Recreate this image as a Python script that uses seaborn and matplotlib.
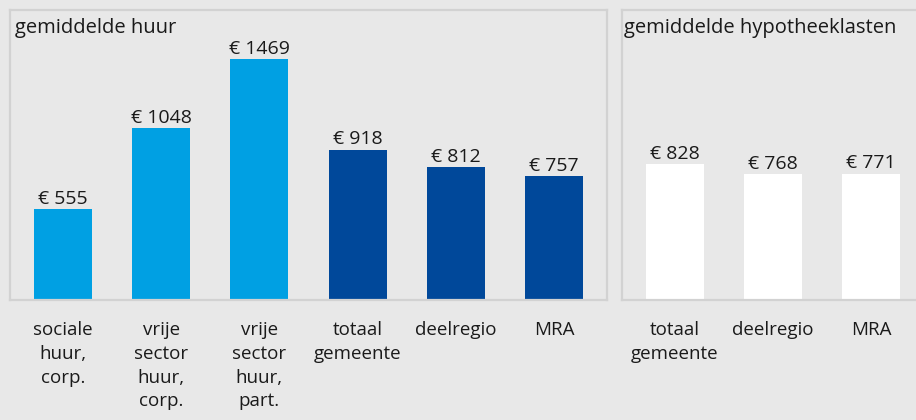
import matplotlib
matplotlib.use("Agg")
import matplotlib.pyplot as plt
import seaborn as sns

# Data
huur_labels = ["sociale\nhuur,\ncorp.", "vrije\nsector\nhuur,\ncorp.", "vrije\nsector\nhuur,\npart.",
               "totaal\ngemeente", "deelregio", "MRA"]
huur_values = [555, 1048, 1469, 918, 812, 757]
huur_colors = ["#00a0e3", "#00a0e3", "#00a0e3", "#00489a", "#00489a", "#00489a"]

hyp_labels = ["totaal\ngemeente", "deelregio", "MRA"]
hyp_values = [828, 768, 771]
hyp_colors = ["#ffffff", "#ffffff", "#ffffff"]

title_left = "gemiddelde huur"
title_right = "gemiddelde hypotheeklasten"

sns.set_theme(style="white")
plt.rcParams["font.family"] = ["Open Sans", "DejaVu Sans"]

BG = "#e8e8e8"
W, H = 916, 420
fig = plt.figure(figsize=(W / 100, H / 100), dpi=100, facecolor=BG)

YMAX = 1770

def panel(rect, labels, values, colors, title):
    ax = fig.add_axes(rect)
    ax.set_facecolor(BG)
    sns.barplot(x=labels, y=values, hue=labels, palette=colors, width=0.59,
                saturation=1, legend=False, linewidth=0, ax=ax)
    n = len(labels)
    ax.set_xlim(-0.54, n - 1 + 0.54)
    ax.set_ylim(0, YMAX)
    ax.set_yticks([])
    ax.set_xticks(range(n))
    ax.set_xticklabels(labels, fontsize=13.5, color="#1a1a1a", linespacing=1.42)
    ax.tick_params(axis="x", length=0, pad=15)
    ax.set_ylabel("")
    ax.set_xlabel("")
    for s in ax.spines.values():
        s.set_visible(True)
        s.set_color("#d2d2d2")
        s.set_linewidth(1.6)
    for c in ax.containers:
        ax.bar_label(c, labels=[f"€ {v:.0f}" for v in c.datavalues], padding=1,
                     fontsize=14, color="#1a1a1a")
    ax.text(0.008, 0.972, title, transform=ax.transAxes, ha="left", va="top",
            fontsize=14.5, color="#1a1a1a")
    return ax

bottom = 120 / H
height = 290 / H
panel([10 / W, bottom, 597 / W, height], huur_labels, huur_values, huur_colors, title_left)
panel([622 / W, bottom, 302 / W, height], hyp_labels, hyp_values, hyp_colors, title_right)

fig.savefig("out.png", dpi=100, facecolor=BG)
